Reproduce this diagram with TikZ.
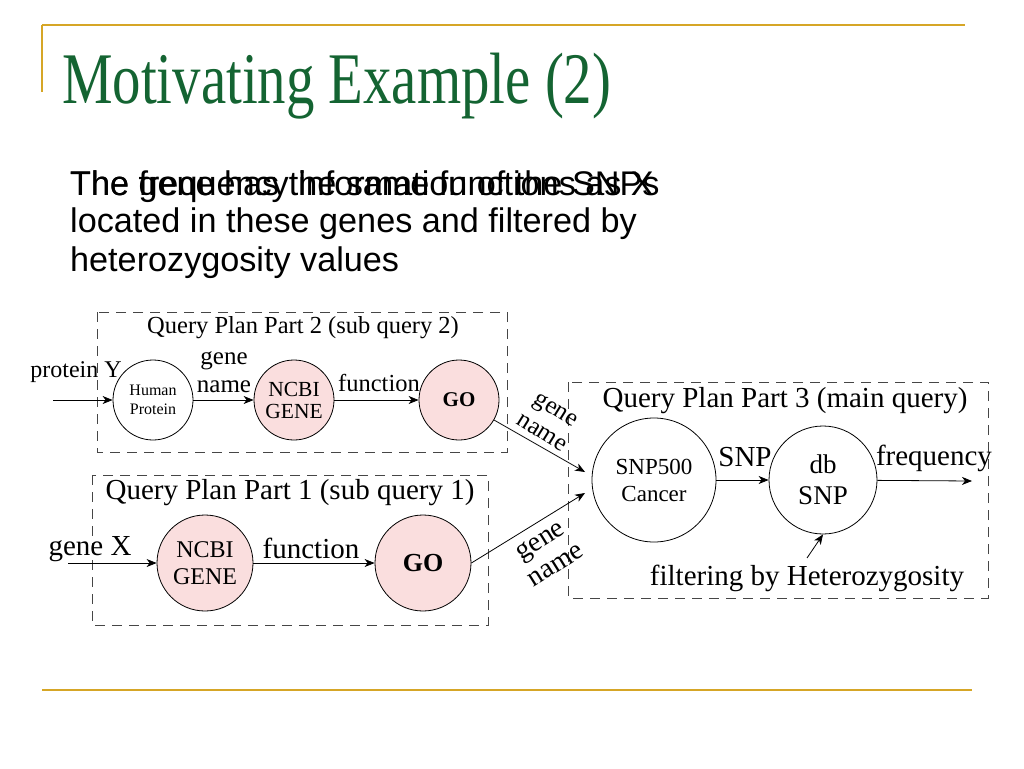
\documentclass[tikz,border=0pt]{standalone}
\usepackage{fontspec}
\setmainfont{Liberation Serif}
\newfontfamily\arialfont{Liberation Sans}
\usetikzlibrary{arrows.meta}
\definecolor{gold}{RGB}{214,166,38}
\definecolor{titlegreen}{RGB}{20,100,50}
\definecolor{pinkfill}{RGB}{250,222,222}
\definecolor{dashgrey}{RGB}{70,70,70}
\newcommand{\fs}[2]{\fontsize{#1}{#2}\selectfont}
\begin{document}
\begin{tikzpicture}[x=1pt,y=-1pt,
  rule/.style={draw=gold,line width=1.6pt},
  qbox/.style={draw=dashgrey,line width=1pt,dash pattern=on 10pt off 7pt},
  db/.style={circle,draw=black,line width=0.8pt,inner sep=0pt,align=center},
  pinkdb/.style={db,fill=pinkfill},
  arr/.style={-{Stealth[length=10pt,width=8pt,inset=3pt]},line width=0.8pt},
  lbl/.style={inner sep=0pt,align=center},
  body/.style={anchor=base west,inner sep=0pt,font=\arialfont\fs{34.2}{38}}]
\useasboundingbox (0,0) rectangle (1024,768);
\fill[white] (0,0) rectangle (1024,768);
% slide rules
\draw[rule] (42,25) -- (965,25);
\draw[rule] (42,25) -- (42,92);
\draw[rule] (42,690) -- (972,690);
% title
\node[anchor=base west,inner sep=0pt,text=titlegreen,font=\fs{56.8}{60}] (title) at (62,103) {\scalebox{1}[1.28]{Motivating Example (2)}};
% body text (two overlaid first lines)
\node[body] (l1a) at (70,195) {The gene has the same functions as X};
\node[body] (l1b) at (70,195) {The frequency information of the SNPs};
\node[body] (l2) at (70,232) {located in these genes and filtered by};
\node[body] (l3) at (70,271) {heterozygosity values};
% dashed boxes
\draw[qbox] (97,312) rectangle (507,452);
\draw[qbox] (92,475) rectangle (488,625);
\draw[qbox] (568,382) rectangle (988,598);
\node[lbl,font=\fs{24.5}{28}] (t2) at (303,328) {Query Plan Part 2 (sub query 2)};
\node[lbl,font=\fs{29}{32}] (t1) at (290,493) {Query Plan Part 1 (sub query 1)};
\node[lbl,font=\fs{29}{32}] (t3) at (785,401) {Query Plan Part 3 (main query)};
% part 2 nodes
\node[db,minimum size=80pt,font=\fs{16}{19}] (hp) at (153,400) {Human\\Protein};
\node[pinkdb,minimum size=80pt,font=\fs{21.5}{22}] (ncbi2) at (294,400) {NCBI\\GENE};
\node[pinkdb,minimum size=80pt,font=\bfseries\fs{21}{24}] (go2) at (459,400) {GO};
% part 1 nodes
\node[pinkdb,minimum size=96pt,font=\fs{24}{27}] (ncbi1) at (205,563) {NCBI\\GENE};
\node[pinkdb,minimum size=96pt,font=\bfseries\fs{26}{28}] (go1) at (423,563) {GO};
% part 3 nodes
\node[db,minimum size=124pt,font=\fs{23}{27}] (snp) at (654,480) {SNP500\\Cancer};
\node[db,minimum size=108pt,font=\fs{27}{31}] (dbsnp) at (823,480) {db\\SNP};
% connector end points
\coordinate (pyin) at (53,400);
\coordinate (gxin) at (68,563);
\coordinate (in1) at (585,472);
\coordinate (in2) at (585,493);
\coordinate (freqend) at (972,481);
\coordinate (filtstart) at (807,558);
% connectors
\draw[arr] (pyin) -- (hp);
\draw[arr] (hp) -- (ncbi2);
\draw[arr] (ncbi2) -- (go2);
\draw[arr] (go2) -- (in1);
\draw[arr] (gxin) -- (ncbi1);
\draw[arr] (ncbi1) -- (go1);
\draw[arr] (go1.east) -- (in2);
\draw[arr] (snp) -- (dbsnp);
\draw[arr] (dbsnp) -- (freqend);
\draw[arr] (filtstart) -- (dbsnp.south);
% labels
\node[lbl,font=\fs{24}{28}] (lpy) at (76,372) {protein Y};
\node[lbl,font=\fs{25}{28}] (lgn2) at (224,372) {gene\\name};
\node[lbl,font=\fs{24.5}{28}] (lf2) at (379,383) {function};
\node[lbl,font=\fs{29}{32}] (lgx) at (90,549) {gene X};
\node[lbl,font=\fs{29}{32}] (lf1) at (311,548) {function};
\node[lbl,font=\fs{29}{32}] (lsnp) at (745,457) {SNP};
\node[lbl,font=\fs{29}{32}] (lfreq) at (934,458) {frequency};
\node[lbl,font=\fs{29}{32}] (lfilt) at (807,578) {filtering by Heterozygosity};
\node[lbl,font=\fs{25}{27},rotate=-32] (lgnu) at (549,421) {gene\\name};
\node[lbl,font=\fs{28}{29},rotate=32] (lgnl) at (548,553) {gene\\name};
\end{tikzpicture}
\end{document}
